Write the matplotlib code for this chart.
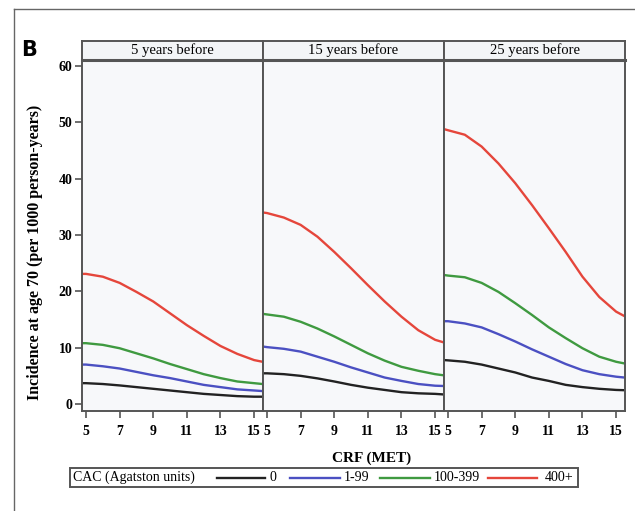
import matplotlib
matplotlib.use("Agg")
import matplotlib.pyplot as plt
from matplotlib.lines import Line2D
from matplotlib.patches import Rectangle

# CRF (MET) en el eje x; lecturas por panel y por categoría de CAC
crf = [4.76, 5, 6, 7, 8, 9, 10, 11, 12, 13, 14, 15, 15.5]
paneles = ["5 years before", "15 years before", "25 years before"]
categorias = ["0", "1-99", "100-399", "400+"]
colores = ["#222222", "#4b50c2", "#3f9a40", "#e5463b"]

inc_5 = {
    "0":       [3.7, 3.7, 3.55, 3.3, 3.0, 2.7, 2.4, 2.1, 1.8, 1.6, 1.4, 1.3, 1.3],
    "1-99":    [7.0, 7.0, 6.7, 6.3, 5.7, 5.1, 4.6, 4.0, 3.4, 3.0, 2.6, 2.4, 2.3],
    "100-399": [10.8, 10.8, 10.5, 9.9, 9.0, 8.1, 7.1, 6.2, 5.3, 4.6, 4.0, 3.7, 3.55],
    "400+":    [23.1, 23.1, 22.6, 21.5, 19.9, 18.2, 16.1, 14.0, 12.1, 10.3, 8.9, 7.8, 7.5],
}
inc_15 = {
    "0":       [5.45, 5.45, 5.3, 5.0, 4.55, 4.0, 3.4, 2.9, 2.5, 2.1, 1.9, 1.8, 1.7],
    "1-99":    [10.2, 10.1, 9.8, 9.3, 8.4, 7.5, 6.5, 5.6, 4.7, 4.1, 3.55, 3.25, 3.2],
    "100-399": [16.0, 15.9, 15.5, 14.6, 13.4, 12.0, 10.5, 9.0, 7.7, 6.6, 5.9, 5.3, 5.1],
    "400+":    [34.0, 33.9, 33.1, 31.8, 29.7, 27.0, 24.1, 21.1, 18.2, 15.5, 13.1, 11.4, 10.95],
}
inc_25 = {
    "0":       [7.8, 7.75, 7.5, 7.0, 6.3, 5.6, 4.7, 4.1, 3.4, 3.0, 2.7, 2.5, 2.45],
    "1-99":    [14.7, 14.7, 14.3, 13.6, 12.4, 11.1, 9.7, 8.4, 7.1, 6.0, 5.3, 4.85, 4.7],
    "100-399": [22.9, 22.8, 22.5, 21.5, 19.9, 17.9, 15.8, 13.6, 11.7, 9.9, 8.4, 7.5, 7.2],
    "400+":    [48.8, 48.6, 47.8, 45.7, 42.7, 39.2, 35.3, 31.2, 27.0, 22.6, 19.0, 16.4, 15.6],
}
datos = [inc_5, inc_15, inc_25]
xticks = [5, 7, 9, 11, 13, 15]
yticks = [0, 10, 20, 30, 40, 50, 60]

SERIF = ["Liberation Serif", "DejaVu Serif"]
BORDE = "#555555"
FONDO = "#f7f8fa"

W, H = 635, 511
fig = plt.figure(figsize=(W / 100, H / 100), dpi=100, facecolor="white")

def fx(px): return px / W
def fy(py): return 1 - py / H

izq = [82, 263, 444]
ancho = 181
for i, (nombre, d) in enumerate(zip(paneles, datos)):
    ax = fig.add_axes([fx(izq[i]), fy(411), ancho / W, 351 / H])
    ax.set_facecolor(FONDO)
    for cat, col in zip(categorias, colores):
        ax.plot(crf, d[cat], color=col, lw=1.7, solid_capstyle="butt")
    ax.set_xlim(4.76, 15.53)
    ax.set_ylim(-1.24, 61.07)
    ax.set_xticks(xticks)
    ax.set_xticklabels([str(t) for t in xticks], fontfamily=SERIF,
                       fontweight="bold", fontsize=10)
    ax.tick_params(axis="x", length=5, width=1.2, color=BORDE, pad=5)
    if i == 0:
        ax.set_yticks(yticks)
        ax.set_yticklabels([str(t) for t in yticks], fontfamily=SERIF,
                           fontweight="bold", fontsize=10)
        ax.tick_params(axis="y", length=5, width=1.2, color=BORDE, pad=2)
    else:
        ax.set_yticks([])
    for s in ax.spines.values():
        s.set_color(BORDE)
        s.set_linewidth(1.4)

    # tira con el título del panel
    st = fig.add_axes([fx(izq[i]), fy(60), ancho / W, 19 / H])
    st.set_facecolor("#f3f5f7")
    st.set_xticks([]); st.set_yticks([])
    for s in st.spines.values():
        s.set_color(BORDE)
        s.set_linewidth(1.4)
    st.spines["bottom"].set_linewidth(2.2)
    st.text(0.5, 0.5, nombre, ha="center", va="center", fontfamily=SERIF,
            fontsize=10.5, transform=st.transAxes)

# etiquetas de ejes y letra del panel
fig.text(fx(372), fy(458), "CRF (MET)", ha="center", va="center",
         fontfamily=SERIF, fontweight="bold", fontsize=11)
fig.text(fx(35), fy(252), "Incidence at age 70 (per 1000 person-years)",
         rotation=90, ha="center", va="center", fontfamily=SERIF,
         fontweight="bold", fontsize=11.5)
fig.text(fx(29), fy(50), "B", ha="center", va="center",
         fontfamily="DejaVu Sans", fontweight="bold", fontsize=15)

# marco exterior (recortado a la derecha y abajo)
fig.add_artist(Line2D([fx(14), 1], [fy(9), fy(9)], color="#666666", lw=1.0,
                      transform=fig.transFigure))
fig.add_artist(Line2D([fx(14), fx(14)], [fy(9), 0], color="#666666", lw=1.0,
                      transform=fig.transFigure))

# leyenda
fig.add_artist(Rectangle((fx(70), fy(487)), 508 / W, 19 / H, fill=False,
                         ec=BORDE, lw=1.4, transform=fig.transFigure))
ly = fy(477.5)
fig.text(fx(73), ly, "CAC (Agatston units)", ha="left", va="center",
         fontfamily=SERIF, fontsize=10)
tramos = [(217, 265, 270), (290, 340, 344), (380, 430, 434), (488, 537, 545)]
for (x0, x1, xt), cat, col in zip(tramos, categorias, colores):
    fig.add_artist(Line2D([fx(x0), fx(x1)], [ly, ly], color=col, lw=1.7,
                          transform=fig.transFigure))
    fig.text(fx(xt), ly, cat, ha="left", va="center", fontfamily=SERIF,
             fontsize=10)

fig.savefig("out.png", dpi=100, facecolor="white")
